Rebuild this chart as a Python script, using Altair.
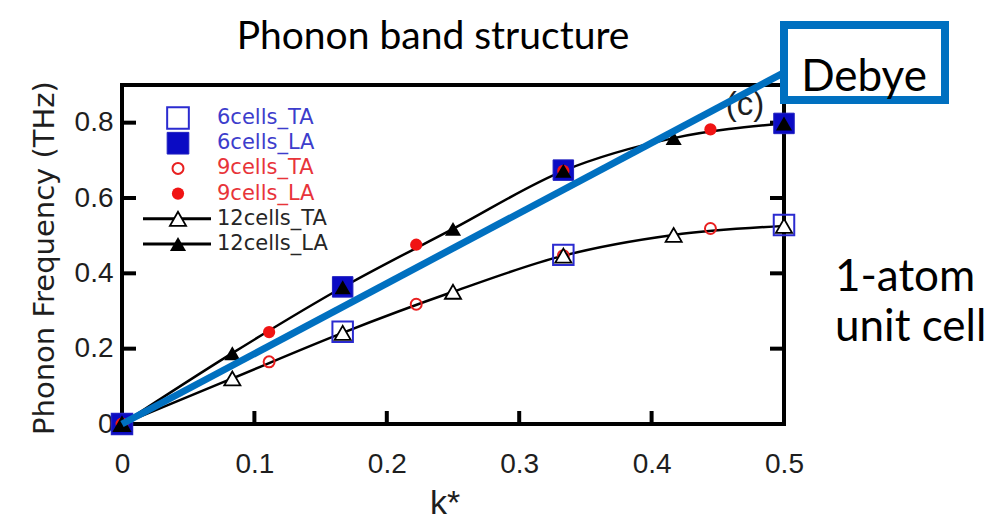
import altair as alt
import pandas as pd

# k* sample points for the three supercell sizes
k_6 = [0, 1 / 6, 2 / 6, 3 / 6]
k_9 = [0, 1 / 9, 2 / 9, 3 / 9, 4 / 9]
k_12 = [0, 1 / 12, 2 / 12, 3 / 12, 4 / 12, 5 / 12, 6 / 12]

# phonon frequencies (THz): transverse (TA) and longitudinal (LA) branches
ta_6 = [0, 0.245, 0.449, 0.528]
la_6 = [0, 0.364, 0.674, 0.798]
ta_9 = [0, 0.165, 0.318, 0.447, 0.519]
la_9 = [0, 0.244, 0.476, 0.672, 0.782]
ta_12 = [0, 0.121, 0.242, 0.351, 0.447, 0.502, 0.526]
la_12 = [0, 0.188, 0.363, 0.518, 0.672, 0.759, 0.798]

# linear (Debye) dispersion
debye_k = [0, 0.5]
debye_f = [0, 0.933]

series_names = ["6cells_TA", "6cells_LA", "9cells_TA", "9cells_LA",
                "12cells_TA", "12cells_LA"]
label_colors = ["#3d3dcc", "#3d3dcc", "#e8343a", "#e8343a", "#262626", "#262626"]

x_ticks = [0, 0.1, 0.2, 0.3, 0.4, 0.5]
y_ticks = [0, 0.2, 0.4, 0.6, 0.8]

W, H = 662, 339
TICK_FONT = "Liberation Sans"
SANS = "Lato"


def frame(k, f):
    return pd.DataFrame({"k": k, "freq": f})


X = alt.X(
    "k:Q",
    scale=alt.Scale(domain=[0, 0.5], nice=False),
    axis=alt.Axis(values=x_ticks, format="~g", domain=False, ticks=False, grid=False,
                  labelFont=TICK_FONT, labelFontSize=28, labelColor="#1e1e1e",
                  labelPadding=26, labelFlush=False, labelOverlap=False, title=None),
)
Y = alt.Y(
    "freq:Q",
    scale=alt.Scale(domain=[0, 0.9], nice=False),
    axis=alt.Axis(values=y_ticks, format="~g", domain=False, ticks=False, grid=False,
                  labelFont=TICK_FONT, labelFontSize=28, labelColor="#1e1e1e",
                  labelPadding=9, labelBaseline="middle", labelOverlap=False,
                  title=None),
)

# inward-pointing ticks on bottom, left and right edges
bottom_ticks = alt.Chart(pd.DataFrame({"k": x_ticks})).mark_rule(
    color="black", strokeWidth=4).encode(x=X, y=alt.value(H), y2=alt.value(H - 13))
left_ticks = alt.Chart(pd.DataFrame({"freq": y_ticks})).mark_rule(
    color="black", strokeWidth=4).encode(y=Y, x=alt.value(0), x2=alt.value(14))
right_ticks = alt.Chart(pd.DataFrame({"freq": y_ticks})).mark_rule(
    color="black", strokeWidth=4).encode(y=Y, x=alt.value(W), x2=alt.value(W - 14))


def curve(k, f):
    return alt.Chart(frame(k, f)).mark_line(
        color="black", strokeWidth=2.5, interpolate="monotone").encode(x=X, y=Y)


def points(k, f, **style):
    return alt.Chart(frame(k, f)).mark_point(opacity=1, **style).encode(x=X, y=Y)


STYLES = {
    "6cells_TA": dict(shape="square", filled=False, stroke="#2b2bd0", strokeWidth=2, size=420),
    "6cells_LA": dict(shape="square", filled=True, fill="#0b0bc4", stroke="#2020c0",
                      strokeWidth=1, size=420),
    "9cells_TA": dict(shape="circle", filled=False, stroke="#e82020", strokeWidth=2, size=120),
    "9cells_LA": dict(shape="circle", filled=True, fill="#f01414", size=150),
    "12cells_TA": dict(shape="triangle-up", filled=True, fill="white", stroke="black",
                       strokeWidth=1.8, size=260),
    "12cells_LA": dict(shape="triangle-up", filled=True, fill="black", size=260),
}

debye = alt.Chart(frame(debye_k, debye_f)).mark_line(
    color="#0070c0", strokeWidth=7, strokeCap="butt").encode(x=X, y=Y)


def note(text, x, y, **style):
    return alt.Chart(pd.DataFrame({"t": [text]})).mark_text(**style).encode(
        text="t:N", x=alt.value(x), y=alt.value(y))


panel_label = note("(c)", 623, 20, font=TICK_FONT, fontSize=33, baseline="middle",
                   color="#1e1e1e")

plot = alt.layer(
    bottom_ticks, left_ticks, right_ticks,
    curve(k_12, ta_12), curve(k_12, la_12),
    points(k_6, ta_6, **STYLES["6cells_TA"]),
    points(k_6, la_6, **STYLES["6cells_LA"]),
    points(k_9, ta_9, **STYLES["9cells_TA"]),
    points(k_9, la_9, **STYLES["9cells_LA"]),
    points(k_12, ta_12, **STYLES["12cells_TA"]),
    points(k_12, la_12, **STYLES["12cells_LA"]),
    panel_label,
    debye,
)

# legend drawn in the upper-left corner of the plot
legend_df = pd.DataFrame({"series": series_names})
LY = alt.Y("series:N", axis=None,
           scale=alt.Scale(type="point", domain=series_names, range=[33, 159], padding=0))

legend_text = alt.Chart(legend_df).mark_text(
    align="left", baseline="middle", font="DejaVu Sans", fontSize=21).encode(
    x=alt.value(95), y=LY, text="series:N",
    color=alt.Color("series:N", scale=alt.Scale(domain=series_names, range=label_colors),
                    legend=None))

legend_lines = alt.Chart(legend_df).transform_filter(
    alt.FieldOneOfPredicate(field="series", oneOf=["12cells_TA", "12cells_LA"])
).mark_rule(color="black", strokeWidth=3).encode(x=alt.value(21), x2=alt.value(89), y=LY)

legend_symbols = []
for name in series_names:
    style = dict(STYLES[name])
    if style["shape"] == "square":
        style["size"] = 470
    legend_symbols.append(
        alt.Chart(legend_df).transform_filter(alt.datum.series == name)
        .mark_point(opacity=1, **style).encode(x=alt.value(56), y=LY)
    )

legend = alt.layer(legend_lines, *legend_symbols, legend_text)

# text annotations around the plot
title = note("Phonon band structure", 311, -48, font=SANS, fontSize=39, color="black")
y_title = note("Phonon Frequency (THz)", -77, 173, font="DejaVu Sans", fontSize=29,
               angle=270, color="#1e1e1e")
x_title = note("k*", 323, 419, font=TICK_FONT, fontSize=34, color="#1e1e1e")
cell_1 = note("1-atom", 713, 193, font=SANS, fontSize=44, align="left", color="black")
cell_2 = note("unit cell", 713, 243, font=SANS, fontSize=44, align="left", color="black")
debye_box = alt.Chart(pd.DataFrame({"t": ["Debye"]})).mark_rect(
    fill="white", stroke="#0070c0", strokeWidth=8).encode(
    x=alt.value(662), x2=alt.value(823), y=alt.value(-60), y2=alt.value(15))
debye_label = note("Debye", 742, -7, font=SANS, fontSize=44, color="black")

chart = alt.layer(
    plot, legend, title, y_title, x_title, cell_1, cell_2, debye_box, debye_label
).resolve_scale(y="independent", color="independent").properties(
    width=W, height=H,
    autosize=alt.AutoSizeParams(type="none"),
    padding={"left": 122, "top": 85, "right": 995 - 122 - W, "bottom": 517 - 85 - H},
    background="white",
).configure_view(stroke="black", strokeWidth=4)

chart.save("out.html", embed_options={"renderer": "svg", "actions": False})
